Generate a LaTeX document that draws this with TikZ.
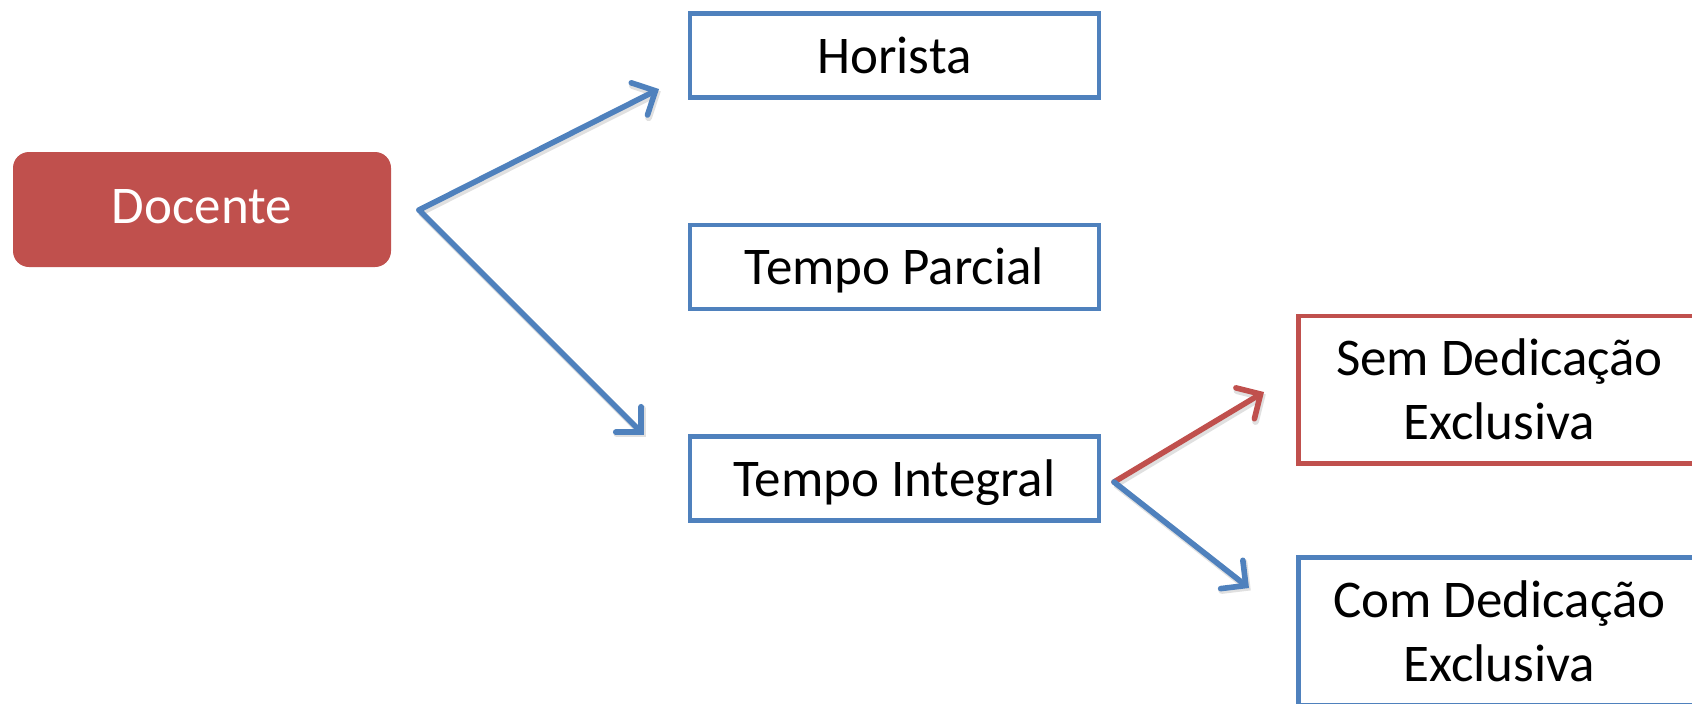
\documentclass[tikz,border=0pt]{standalone}
\usepackage{fontspec}
\setmainfont{Carlito}
\usetikzlibrary{arrows.meta}
\definecolor{cblue}{HTML}{4F81BD}
\definecolor{cred}{HTML}{C0504D}
\begin{document}
\begin{tikzpicture}[x=0.5pt,y=-0.5pt,
  lbl/.style={font=\fontsize{26.5}{32}\selectfont, align=center, inner sep=0pt, text depth=0pt},
  bluebox/.style={draw=cblue, line width=2.3pt, inner sep=0pt, minimum width=204.5pt, minimum height=42pt, lbl, text height=17.6pt},
  sidebox/.style={line width=2.3pt, inner sep=0pt, minimum width=240pt, minimum height=73.7pt, anchor=west},
  arr/.style={line width=2.8pt, line cap=round, -{Straight Barb[length=9pt,width=18pt,line cap=round]},
    preaction={draw=black, opacity=0.12, line width=3.4pt, transform canvas={shift={(0.9pt,-1.2pt)}}}}
]
\useasboundingbox (0,0) rectangle (1692,703);
\clip (0,0) rectangle (1692,703);
\node[fill=cred, rounded corners=8pt, minimum width=189pt, minimum height=57.5pt, lbl, text=white, text height=13.6pt] (docente) at (202,209.5) {Docente};
\node[bluebox] (horista) at (894.5,55.5) {Horista};
\node[bluebox] (parcial) at (894.5,267) {Tempo Parcial};
\node[bluebox] (integral) at (894.5,478.7) {Tempo Integral};
\node[sidebox, draw=cred] (sem) at (1296,389.5) {};
\node[lbl, text height=49.8pt] (semtxt) at (1499.5,389.5) {Sem Dedicação\\Exclusiva};
\node[sidebox, draw=cblue] (com) at (1296,631.4) {};
\node[lbl, text height=50.4pt] (comtxt) at (1499.5,631.4) {Com Dedicação\\Exclusiva};
\coordinate (dstart) at (419,210);
\coordinate (hend) at (659,89);
\coordinate (tiend) at (644,435);
\coordinate (tistart) at (1114,482);
\coordinate (semend) at (1264,392);
\coordinate (comend) at (1249,588);
\draw[arr, cblue] (dstart) -- (hend);
\draw[arr, cblue] (dstart) -- (tiend);
\draw[arr, cred] (tistart) -- (semend);
\draw[arr, cblue] (tistart) -- (comend);
\end{tikzpicture}
\end{document}
